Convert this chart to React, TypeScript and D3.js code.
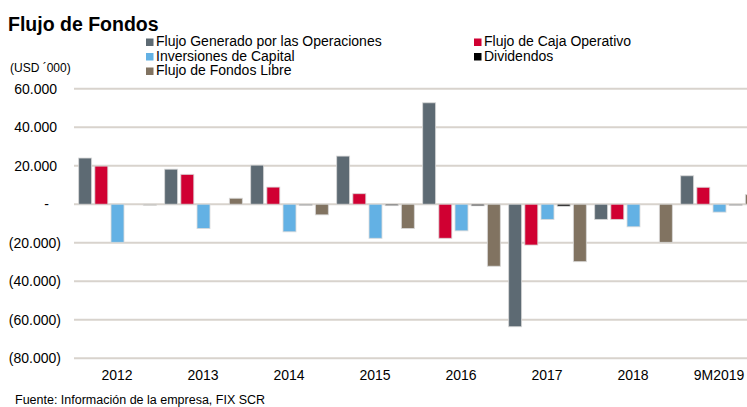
import React from 'react';
import * as d3 from 'd3';

const categories = ['2012', '2013', '2014', '2015', '2016', '2017', '2018', '9M2019'];
const series = [
  'Flujo Generado por las Operaciones',
  'Flujo de Caja Operativo',
  'Inversiones de Capital',
  'Dividendos',
  'Flujo de Fondos Libre',
];
const colors = ['#5D6A73', '#D00032', '#63B1E4', '#000000', '#817361'];

const flujoGenerado = [24000, 18200, 20300, 25000, 52700, -63600, -7900, 14800];
const flujoCaja = [19800, 15500, 8900, 5500, -17700, -21200, -7900, 8800];
const inversiones = [-19800, -12600, -14300, -17700, -13800, -7900, -11700, -4100];
const dividendos = [0, 0, -500, -700, -800, -1000, 0, -200];
const flujoLibre = [-300, 3100, -5500, -12600, -32200, -29800, -19800, 5000];
const values = [flujoGenerado, flujoCaja, inversiones, dividendos, flujoLibre];

const yTicks = [60000, 40000, 20000, 0, -20000, -40000, -60000, -80000];

const font = '"Liberation Sans", Arial, sans-serif';

const fmt = (v: number) => {
  if (v === 0) return '-';
  const s = d3.format(',')(Math.abs(v)).replace(/,/g, '.');
  return v < 0 ? `(${s})` : s;
};

export default function App() {
  const width = 747;
  const height = 407;

  const x = d3.scaleBand().domain(categories).range([74, 762]);
  const xs = d3.scaleBand().domain(series).range([3, 84]).paddingInner(0.2).paddingOuter(0.1);
  const y = d3.scaleLinear().domain([-80000, 60000]).range([358.3, 88.7]);

  // legend layout: [col, row]
  const legendPos = [[0, 0], [1, 0], [0, 1], [1, 1], [0, 2]];
  const legendX = [146, 474];

  return (
    <svg width={width} height={height} style={{ position: 'absolute', left: 0, top: 0 }} fontFamily={font}>
      <text x={8} y={31} fontSize={19.5} fontWeight="bold" fill="#000">Flujo de Fondos</text>

      {series.map((s, i) => {
        const [c, r] = legendPos[i];
        const lx = legendX[c];
        const ly = 46 + r * 14.5;
        return (
          <g key={s}>
            <rect x={lx} y={ly - 7.5} width={7.5} height={7.5} fill={colors[i]} />
            <text x={lx + 10} y={ly} fontSize={14} fill="#000">{s}</text>
          </g>
        );
      })}

      <text x={10} y={72} fontSize={12} fill="#000">(USD ´000)</text>

      {yTicks.map(t => (
        <g key={t}>
          <line x1={74} x2={width} y1={y(t)} y2={y(t)} stroke="#D8D3CD" strokeWidth={2} />
          <text
            x={t < 0 ? 61 : t === 0 ? 49 : 57}
            y={y(t)}
            dy="0.36em"
            textAnchor="end"
            fontSize={14}
            fill="#000"
          >
            {fmt(t)}
          </text>
        </g>
      ))}

      {categories.map((c, ci) => (
        <g key={c} transform={`translate(${x(c)},0)`}>
          {series.map((s, si) => {
            const v = values[si][ci];
            if (v === 0) return null;
            const y0 = y(0);
            const y1 = y(v);
            return (
              <rect
                key={s}
                x={xs(s)}
                y={Math.min(y0, y1)}
                width={xs.bandwidth()}
                height={Math.max(Math.abs(y1 - y0), 1)}
                fill={colors[si]}
                stroke="#d9d9d9"
                strokeOpacity={0.8}
                strokeWidth={1}
              />
            );
          })}
          <text
            x={x.bandwidth() / 2}
            y={380}
            textAnchor="middle"
            fontSize={14}
            fill="#000"
          >
            {c}
          </text>
        </g>
      ))}

      <text x={15} y={404} fontSize={12.5} fill="#000">Fuente: Información de la empresa, FIX SCR</text>
    </svg>
  );
}
